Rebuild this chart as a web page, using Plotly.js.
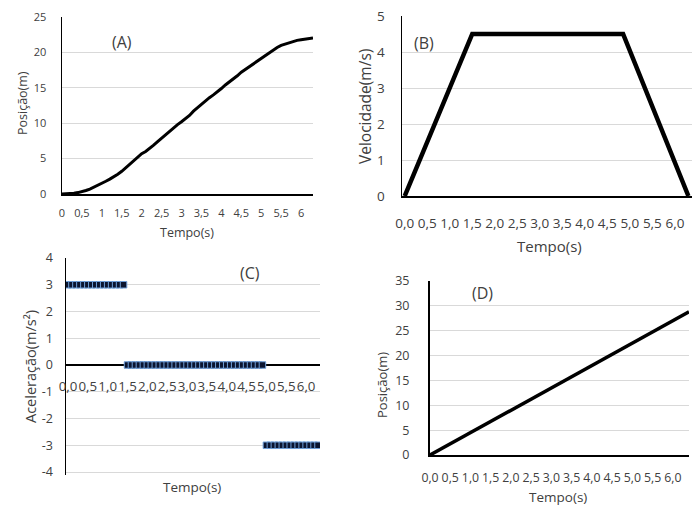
<!DOCTYPE html>
<html>
<head>
<meta charset="utf-8">
<script src="https://cdn.plot.ly/plotly-3.0.1.min.js"></script>
<style>html,body{margin:0;padding:0;background:#fff;}#chart{width:700px;height:522px;}</style>
</head>
<body>
<div id="chart"></div>
<script>
// ---- data ----
const tempo = [0,0.1,0.2,0.3,0.4,0.5,0.6,0.7,0.8,0.9,
  1.0,1.1,1.2,1.3,1.4,1.5,1.6,1.7,1.8,1.9,
  2.0,2.1,2.2,2.3,2.4,2.5,2.6,2.7,2.8,2.9,
  3.0,3.1,3.2,3.3,3.4,3.5,3.6,3.7,3.8,3.9,
  4.0,4.1,4.2,4.3,4.4,4.5,4.6,4.7,4.8,4.9,
  5.0,5.1,5.2,5.3,5.4,5.5,5.6,5.7,5.8,5.9,
  6.0,6.1,6.2,6.3];
const posicaoA = [0,0,0.05,0.1,0.2,0.3,0.5,0.7,0.95,1.2,
  1.5,1.8,2.1,2.4,2.8,3.2,3.7,4.2,4.7,5.2,
  5.7,6.0,6.4,6.9,7.4,7.9,8.3,8.8,9.3,9.8,
  10.2,10.6,11.1,11.7,12.2,12.7,13.2,13.6,14.0,14.4,
  14.9,15.4,15.8,16.3,16.7,17.2,17.6,18.0,18.4,18.8,
  19.2,19.6,20.0,20.4,20.7,21.0,21.2,21.4,21.6,21.7,
  21.8,21.9,22.0,22.05];
const tempoB = [0, 1.5, 4.85, 6.3];
const velocidadeB = [0, 4.5, 4.5, 0];
const aceleracaoC = [3,3,3,3,3,3,3,3,3,3,3,3,3,3,3,
  0,0,0,0,0,0,0,0,0,0,0,0,0,0,0,0,0,0,0,0,0,0,0,0,0,0,0,0,0,0,0,0,0,0,0,
  -3,-3,-3,-3,-3,-3,-3,-3,-3,-3,-3,-3,-3,-3];
const tempoD = [0, 1, 2, 3, 4, 5, 6, 6.4];
const posicaoD = [0, 4.5, 9.0, 13.5, 18.0, 22.5, 27.0, 28.8];
const ticksX = [0,0.5,1,1.5,2,2.5,3,3.5,4,4.5,5,5.5,6];
const ticksYC = [-4,-3,-2,-1,0,1,2,3,4];
const ticksYCText = ['-4','-3','-2','-1','0','1','2','3','4'];

// ---- layout helpers ----
const W = 700, H = 522;
const px = x => x / W;
const py = y => 1 - y / H;
const FONT = 'Open Sans, Noto Sans, sans-serif';
const TXT = '#404040';
const GRID = '#d9d9d9';

const traces = [
  {x: tempo, y: posicaoA, xaxis: 'x', yaxis: 'y', mode: 'lines',
   line: {color: '#000', width: 3}, hoverinfo: 'skip'},
  {x: tempoB, y: velocidadeB, xaxis: 'x2', yaxis: 'y2', mode: 'lines',
   line: {color: '#000', width: 4.5}, hoverinfo: 'skip'},
  {x: tempo, y: aceleracaoC, xaxis: 'x3', yaxis: 'y3', mode: 'markers',
   marker: {symbol: 'square', size: 6.5, color: '#0b1530', line: {color: '#6f9fd8', width: 1}},
   hoverinfo: 'skip'},
  {x: tempoD, y: posicaoD, xaxis: 'x4', yaxis: 'y4', mode: 'lines',
   line: {color: '#000', width: 3.5}, hoverinfo: 'skip'}
];

function ann(text, x, y, size, angle) {
  return {text: text, x: px(x), y: py(y), xref: 'paper', yref: 'paper',
    xanchor: 'center', yanchor: 'middle', showarrow: false,
    textangle: angle || 0, font: {family: FONT, size: size, color: TXT}};
}

const layout = {
  width: W, height: H, margin: {l: 0, r: 0, t: 0, b: 0},
  paper_bgcolor: '#fff', plot_bgcolor: 'rgba(0,0,0,0)',
  showlegend: false, separators: ',.',
  font: {family: FONT, color: TXT},
  // (A)
  xaxis: {domain: [px(62), px(313)], anchor: 'y', range: [0, 6.3], tickvals: ticksX, tickangle: 0,
    showgrid: false, zeroline: false, showline: true, linecolor: '#000', linewidth: 1.5,
    ticks: '', ticklabelstandoff: 8, tickfont: {size: 11, color: TXT, family: FONT}},
  yaxis: {domain: [py(194), py(17)], anchor: 'x', range: [0, 25], dtick: 5,
    showgrid: true, gridcolor: GRID, zeroline: false, showline: true, linecolor: '#000', linewidth: 1.5,
    ticks: '', ticklabelstandoff: 12, tickfont: {size: 11, color: TXT, family: FONT}},
  // (B)
  xaxis2: {domain: [px(402), px(692)], anchor: 'y2', range: [-0.06, 6.38], tickvals: ticksX, tickformat: '.1f', tickangle: 0,
    showgrid: false, zeroline: false, showline: true, linecolor: '#000', linewidth: 1.5,
    ticks: '', ticklabelstandoff: 14, tickfont: {size: 13.5, color: TXT, family: FONT}},
  yaxis2: {domain: [py(196), py(16)], anchor: 'x2', range: [0, 5], dtick: 1,
    showgrid: true, gridcolor: GRID, zeroline: false, showline: true, linecolor: '#000', linewidth: 1.5,
    ticks: '', ticklabelstandoff: 13, tickfont: {size: 13.5, color: TXT, family: FONT}},
  // (C)
  xaxis3: {domain: [px(66), px(320)], anchor: 'free', position: py(365), range: [-0.05, 6.35],
    tickvals: ticksX, tickformat: '.1f', tickangle: 0,
    showgrid: false, zeroline: false, showline: false,
    ticks: '', ticklabelstandoff: 12, tickfont: {size: 13.3, color: TXT, family: FONT}},
  yaxis3: {domain: [py(474.7), py(258)], anchor: 'x3', range: [-4.1, 4], tickvals: ticksYC, ticktext: ticksYCText,
    showgrid: true, gridcolor: GRID, zeroline: true, zerolinecolor: '#000', zerolinewidth: 1.5,
    showline: true, linecolor: '#000', linewidth: 1.5,
    ticks: '', ticklabelstandoff: 9, tickfont: {size: 12.5, color: TXT, family: FONT}},
  // (D)
  xaxis4: {domain: [px(430), px(689)], anchor: 'y4', range: [0, 6.4], tickvals: ticksX, tickformat: '.1f', tickangle: 0,
    showgrid: false, zeroline: false, showline: true, linecolor: '#000', linewidth: 2,
    ticks: '', ticklabelstandoff: 10, tickfont: {size: 12.3, color: TXT, family: FONT}},
  yaxis4: {domain: [py(455), py(281)], anchor: 'x4', range: [0, 35], dtick: 5,
    showgrid: true, gridcolor: GRID, zeroline: false, showline: true, linecolor: '#000', linewidth: 2,
    ticks: '', ticklabelstandoff: 16, tickfont: {size: 12.5, color: TXT, family: FONT}},
  annotations: [
    ann('(A)', 122, 42, 16),
    ann('Tempo(s)', 187, 232, 12.5),
    ann('Posição(m)', 22, 103, 12.5, -90),
    ann('(B)', 424, 43, 16),
    ann('Tempo(s)', 549, 246, 15),
    ann('Velocidade(m/s)', 365, 107, 15.5, -90),
    ann('(C)', 250, 273, 16),
    ann('Tempo(s)', 192, 487, 13.5),
    ann('Aceleração(m/s²)', 30, 367, 14.5, -90),
    ann('(D)', 482, 293, 16),
    ann('Tempo(s)', 558, 497, 13.5),
    ann('Posição(m)', 382, 385, 13, -90)
  ]
};

Plotly.newPlot('chart', traces, layout, {staticPlot: true, displayModeBar: false});
</script>
</body>
</html>
